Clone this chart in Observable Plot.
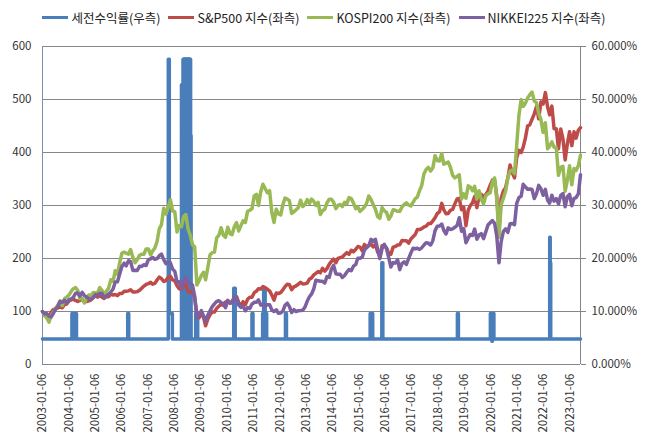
<!DOCTYPE html>
<html><head><meta charset="utf-8">
<script src="https://cdn.jsdelivr.net/npm/d3@7"></script>
<script src="https://cdn.jsdelivr.net/npm/@observablehq/plot@0.6"></script>
<style>
body{margin:0;background:#fff;font-family:"Noto Sans CJK KR",sans-serif;}
#legend{height:34px;display:flex;justify-content:center;align-items:center;font-size:12.5px;color:#222;}
#legend .item{display:flex;align-items:center;margin:0 4px;}
#legend .sw{display:inline-block;width:26px;height:3px;margin-right:3px;}
</style></head><body>
<div id="legend"></div>
<div id="chart"></div>
<script>
// ---- data ----
const seriesNames = ["세전수익률(우측)", "S&P500 지수(좌측)", "KOSPI200 지수(좌측)", "NIKKEI225 지수(좌측)"];
const seriesColors = ["#4A7EBB", "#BE4B48", "#98B954", "#7D60A0"];
const startDate = "2003-01-06"; // first observation; index values are monthly from here
const tickLabels = ["2003-01-06","2004-01-06","2005-01-06","2006-01-06","2007-01-06","2008-01-06","2009-01-06","2010-01-06","2011-01-06","2012-01-06","2013-01-06","2014-01-06","2015-01-06","2016-01-06","2017-01-06","2018-01-06","2019-01-06","2020-01-06","2021-01-06","2022-01-06","2023-01-06"];
const leftTicks = [0,100,200,300,400,500,600];

const spx = [
100,92,90.5,91,99,104,105,107,108.5,107,113,114,
120,122,123,121,119,121,123,119,119,120,122,126,
130.5,127,130,127,124.5,128,128,133,131,132,130,134,
134,138,138,139,141,137,137,137.5,140,144,148,151,
152.5,155,151.5,153,159.5,165,162,156.5,158.5,164.5,166.5,159.5,
158,148.5,143,142.5,149,150.5,138,136.5,138,125.5,95,88,
97,89,73,86,94,99,99,106,110,114,111.5,118,
120,115.5,119,126,128,117,111,118.5,113,123,127,127,
135.5,138.5,143,142.5,147,145,142,139,131,121.5,135,134,
135.5,141,147,151.5,150.5,141,146.5,148.5,151.5,155,152,152.5,
153.5,161,163,169,172,175.5,173,181.5,176,181,189,194.5,
199,192,200,201.5,203,207,211,208,215.5,212.5,217,222.5,
221.5,214.5,226.5,222.5,224.5,227,222,226.5,212,206.5,224,224,
220,209,208,221.5,222.5,225.5,226,234,233.5,233.5,229,236.5,
241,245.5,254.5,254.5,256.5,259.5,261,266,266,271,277,285,
288,304,292,284.5,285,291,292.5,303,312.5,313.5,292,297,
262,291,299.5,305,317,296,316.5,321,315,320.5,327,338,
348,347,318,255,313.5,327.5,333.5,352,376.5,362,352,390,
404,400,410,427.5,450,452.5,462.5,473,487,463.5,495.5,491.5,
513,486,471,487.5,445,445,407,444.5,425.5,386,417,439,
413,439,427,442,447];

const kospi200 = [
100,92,88,80,93,99,106,112,120,111,124,127,
131,138,143,145,140,124,125,116,125,131,130,136,
135,136,145,140,132,138,144,160,157,177,170,192,
210,212,210,208,217,202,192,198,206,208,208,218,
218,207,214,220,232,256,264,295,284,296,311,290,
288,250,262,260,279,283,256,244,226,222,150,158,
168,174,160,183,207,211,212,239,244,258,244,240,
259,247,245,260,268,252,262,271,268,289,291,294,
318,321,300,326,340,332,324,328,287,268,293,284,
282,302,314,312,309,285,288,292,296,310,298,302,
311,304,312,308,300,306,283,290,293,305,312,312,
306,294,300,302,298,306,303,315,313,305,294,297,
289,293,297,304,318,311,302,293,279,276,296,290,
287,274,280,292,291,289,289,297,302,305,301,299,
306,313,316,328,338,360,368,372,365,371,394,385,
384,398,378,380,382,372,357,352,355,358,312,322,
314,337,335,328,336,312,328,312,303,318,322,324,
345,352,313,240,302,314,327,352,365,367,360,413,
470,500,487,493,503,509,514,497,494,474,462,438,
456,407,412,420,410,409,357,372,374,327,348,375,
339,370,366,375,395];

const nikkei225 = [
100,95.7,96,91.5,89.9,96.7,104.2,109.8,118.7,117.3,121.2,115.9,
122.5,123.8,126.7,134.5,135,129,136.1,130,127.2,124.2,123.6,126.4,
131.9,130.7,134.7,133.9,126.4,129.4,132.9,136.6,142.5,155.8,156.2,170.7,
184.9,191.1,186,195.8,194,177.5,178,177.4,185.3,185.1,188.2,186.8,
197.7,199.5,202,198.4,199.7,205.2,208.2,198,190.2,192.7,192.1,180,
175.7,156,156.1,143.8,159,164.6,154.7,153.5,150,129.2,88,94,
101.7,91.7,82,93.1,101.3,109.3,114.3,118.9,120.4,116.3,115.2,107.3,
121,117,116.2,127.3,126.9,112.1,107.7,109.5,101.3,107.5,105.6,114,
117.4,117.5,121.9,112,113,111.3,112.7,112.9,102.8,99.9,103.2,96.8,
97,101,111.6,115.7,109.3,98,103.4,99.8,101.5,101.8,102.5,108.4,
119.3,127.8,132.7,142.3,159.1,158.1,157,156.9,153.7,165.9,164.4,179.8,
187,171.2,170.3,170.2,164.2,167.9,174,179.3,177,185.6,188.4,200.4,
200.3,202.8,215.7,220.4,224,236,232.3,236.3,216.8,199.6,219,226.6,
218.5,201.1,183.9,192.3,191.3,197.8,178.8,190.2,193.8,188.8,200,210.1,
219.4,218.5,219.4,217,220.3,225.5,229.9,228.7,225.5,233.6,252.6,260.8,
261.3,265.1,253.3,246.2,257.9,254.8,256,258.9,262.4,276.8,251.6,256.5,
229.7,238.4,245.4,243.4,255.5,236.4,244.2,247,237.6,249.7,263.1,267.3,
271.5,266.3,242.7,192,231.8,251.1,255.8,249.2,265.6,266.1,263.7,303.4,
315,317.5,340,334.9,330.7,331.2,330.4,313.1,322.4,338,331.6,319.3,
330.4,309.9,304.5,319.3,308.1,313.1,302.9,319.1,322.4,297.7,316.6,321,
299.5,313.6,315,321.8,358];

// pre-tax return (%), weekly step series given as change points
const returnDates = ["2003-01-06",
"2004-02-16","2004-02-23","2004-03-01","2004-03-08","2004-03-15","2004-03-22","2004-03-29","2004-04-05","2004-04-12","2004-04-19",
"2006-03-27","2006-04-10",
"2007-10-08","2007-10-22","2007-12-03",
"2008-04-07","2008-04-14","2008-04-21","2008-04-28","2008-05-05","2008-05-12","2008-05-19","2008-05-26","2008-06-02","2008-06-09","2008-06-16","2008-06-23","2008-06-30","2008-07-07","2008-07-14","2008-07-21","2008-07-28","2008-08-04","2008-08-11","2008-08-18","2008-08-25",
"2008-10-20","2008-10-27","2008-11-03","2008-11-17",
"2010-03-29","2010-04-05","2010-04-12","2010-04-19","2010-12-06","2010-12-20",
"2011-05-02","2011-05-09","2011-05-16","2011-05-23","2011-05-30","2011-06-06","2011-06-13","2011-06-20","2011-06-27","2011-07-04",
"2012-03-12","2012-03-26",
"2015-05-25","2015-06-01","2015-06-08","2015-06-15","2015-06-22","2015-06-29","2015-11-02","2015-11-16",
"2018-09-10","2018-09-24","2019-12-09","2019-12-16","2019-12-23","2019-12-30","2020-01-06","2020-01-13","2020-01-20","2020-01-27",
"2022-03-07","2022-03-14","2022-03-21","2023-05-06"];
const returnValues = [4.8,
9.6,4.8,9.6,4.8,9.6,4.8,9.6,4.8,9.6,4.8,
9.6,4.8,
57.6,9.6,4.8,
52.8,4.8,52.8,57.6,4.8,57.6,4.8,57.6,4.8,57.6,47.6,57.6,4.8,57.6,4.8,57.6,4.8,57.6,43.2,4.8,4.8,
9.6,4.8,9.6,4.8,
14.4,4.8,14.4,4.8,9.6,4.8,
9.6,4.8,14.4,4.8,14.4,9.6,4.8,9.6,4.8,4.8,
9.6,4.8,
9.6,4.8,9.6,4.8,9.6,4.8,19.2,4.8,
9.6,4.8,9.6,4.8,9.6,4.4,9.6,4.8,9.6,4.8,
24.0,19.2,4.8,4.8];

// ---- build ----
const start = new Date(startDate + "T00:00:00Z");
const monthly = (arr) => arr.map((v, i) => ({date: d3.utcMonth.offset(start, i), v}));
const end = d3.utcMonth.offset(start, spx.length - 1);
const tickDates = tickLabels.map((_, i) => d3.utcDay.offset(start, 364 * i));
const labelOf = new Map(tickDates.map((d, i) => [+d, tickLabels[i]]));
const blue = returnDates.map((d, i) => ({date: new Date(d + "T00:00:00Z"), v: returnValues[i] * 10}));

// legend
const leg = document.getElementById("legend");
seriesNames.forEach((n, i) => {
  const it = document.createElement("span"); it.className = "item";
  const sw = document.createElement("span"); sw.className = "sw"; sw.style.background = seriesColors[i];
  it.appendChild(sw); it.appendChild(document.createTextNode(n)); leg.appendChild(it);
});

const axisColor = "#868686";
const chart = Plot.plot({
  width: 648, height: 407,
  marginLeft: 42, marginRight: 68, marginTop: 12, marginBottom: 77,
  style: {fontFamily: '"Noto Sans CJK KR", sans-serif', fontSize: "11px", color: "#333", background: "#fff"},
  x: {type: "utc", domain: [start, end]},
  y: {domain: [0, 600]},
  marks: [
    Plot.ruleY(leftTicks.slice(1), {stroke: axisColor}),
    Plot.ruleY([0], {stroke: axisColor}),
    Plot.ruleX([start], {stroke: "#7d8fa8"}),
    Plot.ruleX([end], {stroke: axisColor}),
    Plot.axisY({ticks: leftTicks, anchor: "left", label: null, tickSize: 0, tickPadding: 11, tickFormat: d => String(d), fill: "#333", fontSize: 11.5}),
    Plot.axisY({ticks: leftTicks, anchor: "right", label: null, tickSize: 5, tickPadding: 6, stroke: axisColor, strokeOpacity: 1, fill: "#333", tickFormat: d => (d / 10).toFixed(3) + "%", fontSize: 11.5}),
    Plot.axisX({ticks: tickDates, anchor: "bottom", label: null, tickSize: 0, tickPadding: 9, tickRotate: -90, tickFormat: d => labelOf.get(+d), fill: "#333", fontSize: 11.5}),
    Plot.line(blue, {x: "date", y: "v", curve: "step-after", stroke: seriesColors[0], strokeWidth: 3.5}),
    Plot.line(monthly(spx), {x: "date", y: "v", stroke: seriesColors[1], strokeWidth: 3.5}),
    Plot.line(monthly(kospi200), {x: "date", y: "v", stroke: seriesColors[2], strokeWidth: 3.5}),
    Plot.line(monthly(nikkei225), {x: "date", y: "v", stroke: seriesColors[3], strokeWidth: 3.5})
  ]
});
document.getElementById("chart").appendChild(chart);
</script>
</body></html>
